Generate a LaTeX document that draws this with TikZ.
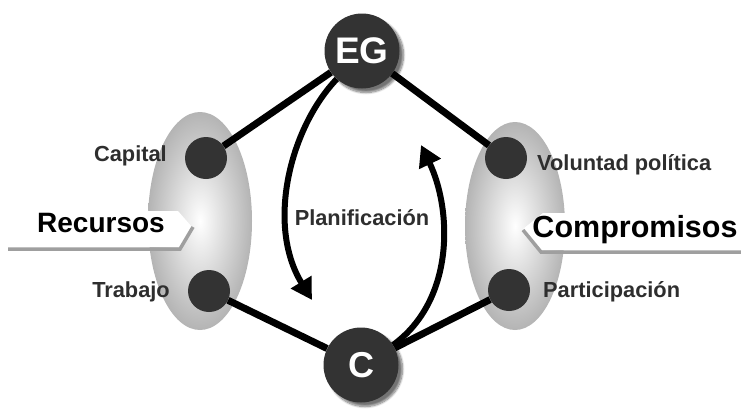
\documentclass[tikz,border=0pt]{standalone}
\usepackage{fontspec}
\setmainfont{Liberation Sans}
\usetikzlibrary{shadows.blur,arrows.meta}
\definecolor{dotgray}{HTML}{333333}
\definecolor{ellgray}{HTML}{B4B4B4}
\definecolor{labgray}{HTML}{2E2E2E}
\begin{document}
\begin{tikzpicture}[x=1pt,y=-1pt,
  bigdot/.style={circle,fill=dotgray,minimum size=75pt,inner sep=0pt,text=white,
    blur shadow={shadow xshift=4pt,shadow yshift=-4pt,shadow blur steps=10,shadow opacity=55}},
  smalldot/.style={circle,fill=dotgray,minimum size=42pt,inner sep=0pt},
  lab/.style={font=\bfseries\fontsize{21.8}{22}\selectfont,text=labgray,inner sep=0pt},
  banner/.style={font=\bfseries\fontsize{28}{28}\selectfont,text=black,inner sep=0pt},
  conn/.style={line width=7pt,black},
  flow/.style={line width=6pt,black,-{Triangle[length=21pt,width=23pt]}},
  bannershadow/.style={line width=3.5pt,gray!75}
]
\useasboundingbox (0,0) rectangle (741,410);
% grouping ellipses
\shade[inner color=white,outer color=ellgray] (200,221) ellipse [x radius=52pt,y radius=109pt];
\shade[inner color=white,outer color=ellgray] (515,226) ellipse [x radius=50pt,y radius=104pt];
% banners
\fill[white] (0,211) -- (178,211) -- (192,227) -- (180,247) -- (0,247) -- cycle;
\draw[bannershadow] (8,249) -- (180,249) -- (193,227);
\fill[white] (741,213) -- (543,213) -- (523,229) -- (541,250) -- (741,250) -- cycle;
\draw[bannershadow] (523,230) -- (541,252) -- (741,252);
\node[banner,anchor=base] (rec) at (101,232) {Recursos};
\node[banner,anchor=base,font=\bfseries\fontsize{30.5}{31}\selectfont] (comp) at (635,237) {Compromisos};
% nodes
\node[bigdot,font=\bfseries\fontsize{37}{37}\selectfont] (EG) at (362,51) {EG};
\node[bigdot,font=\bfseries\fontsize{36}{36}\selectfont] (C) at (361,365) {C};
\node[smalldot] (cap) at (206,158) {};
\node[smalldot] (tra) at (209,291) {};
\node[smalldot] (vol) at (506,158) {};
\node[smalldot] (par) at (509,290) {};
% connectors (they stop at the node borders)
\draw[conn] (EG) -- (cap);
\draw[conn] (EG) -- (vol);
\draw[conn] (C) -- (tra);
\draw[conn] (C) -- (par);
% planning arrows
\coordinate (a1) at (312,300);
\coordinate (a2) at (421,145);
\draw[flow] (EG.228) .. controls (290,128) and (266,225) .. (a1);
\draw[flow] (C.32) .. controls (455,300) and (452,210) .. (a2);
% labels
\node[lab,anchor=base east] (lcap) at (167,161) {Capital};
\node[lab,anchor=base east] (ltra) at (170,297) {Trabajo};
\node[lab,anchor=base west] (lvol) at (537,170) {Voluntad política};
\node[lab,anchor=base west] (lpar) at (543,297) {Participación};
\node[lab,anchor=base] (lpla) at (362,225) {Planificación};
\end{tikzpicture}
\end{document}
